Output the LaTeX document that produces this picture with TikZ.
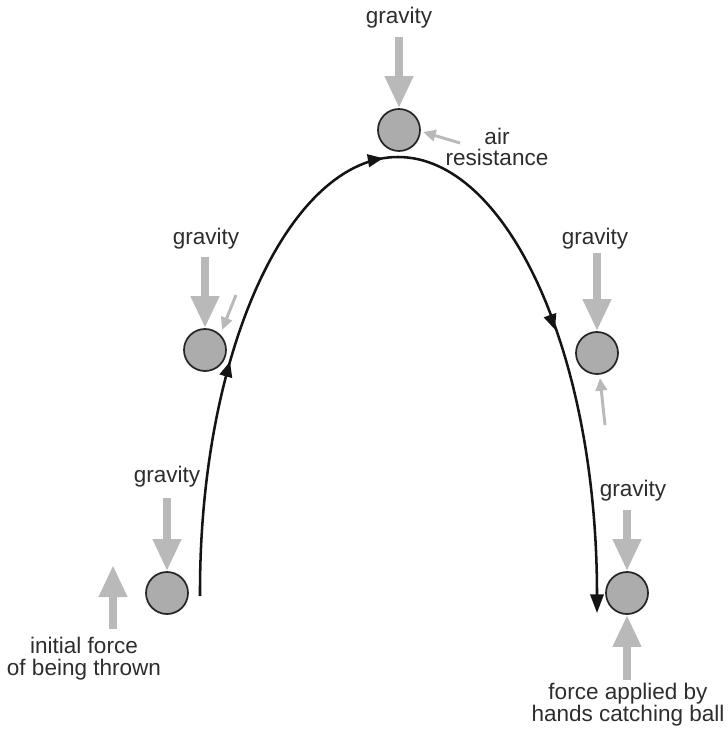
\documentclass[tikz,border=0pt]{standalone}
\usepackage{fontspec}
\setmainfont{Liberation Sans}
\usetikzlibrary{arrows.meta,decorations.markings}
\definecolor{forcegrey}{RGB}{185,185,185}
\definecolor{ballgrey}{RGB}{172,172,172}
\definecolor{txt}{RGB}{45,45,45}
\tikzset{
  ball/.style={circle, draw=black!85, line width=1.3pt, fill=ballgrey, minimum size=31.5pt, inner sep=0pt},
  bigforce/.style={draw=forcegrey, line width=6pt, -{Triangle[length=24pt,width=20pt]}},
  smallforce/.style={draw=forcegrey, line width=2.2pt, -{Triangle[length=9.5pt,width=8.5pt]}},
  lbl/.style={text=txt, font=\fontsize{16.9}{17.2}\selectfont, anchor=base, inner sep=0pt, align=center},
  traj/.style={draw=black!92, line width=1.9pt, -{Triangle[length=14pt,width=10pt]},
    postaction={decorate},
    decoration={markings,
      mark=at position 0.225 with {\arrow{Triangle[length=11.5pt,width=9.5pt]}},
      mark=at position 0.478 with {\arrow{Triangle[length=11.5pt,width=9.5pt]}},
      mark=at position 0.727 with {\arrow{Triangle[length=11.5pt,width=9.5pt]}}}}
}
\begin{document}
\begin{tikzpicture}[x=0.75pt,y=-0.75pt]
\useasboundingbox (0,0) rectangle (728,732);
% balls
\node[ball] (b1) at (167,593) {};
\node[ball] (b2) at (205,350) {};
\node[ball] (b3) at (399,130) {};
\node[ball] (b4) at (597,353) {};
\node[ball] (b5) at (627,593) {};
% trajectory
\coordinate (tstart) at (200,596);
\coordinate (apex) at (398,157);
\coordinate (tend) at (597,613);
\path[traj] (tstart) .. controls (199,350) and (290,157) .. (apex)
  .. controls (506,157) and (597,350) .. (tend);
% gravity arrows
\coordinate (g1) at (167,498);
\coordinate (g2) at (205,257);
\coordinate (g3) at (399,37);
\coordinate (g4) at (597,253);
\coordinate (g5) at (627,510);
\draw[bigforce] (g1) -- (b1.north);
\draw[bigforce] (g2) -- (b2.north);
\draw[bigforce] (g3) -- (b3.north);
\draw[bigforce] (g4) -- (b4.north);
\draw[bigforce] (g5) -- (b5.north);
% other forces
\coordinate (thr0) at (113,629);
\coordinate (thr1) at (113,565);
\draw[bigforce] (thr0) -- (thr1);
\coordinate (cat0) at (627,680);
\draw[bigforce] (cat0) -- (b5.south);
% air resistance
\coordinate (a2) at (236,295);
\coordinate (a2e) at (222,330);
\draw[smallforce] (a2) -- (a2e);
\coordinate (a3) at (460,143);
\coordinate (a3e) at (423,132);
\draw[smallforce] (a3) -- (a3e);
\coordinate (a4) at (605,425);
\coordinate (a4e) at (600,378);
\draw[smallforce] (a4) -- (a4e);
% labels
\node[lbl] (lg1) at (167,482) {gravity};
\node[lbl] (lg2) at (206,244) {gravity};
\node[lbl] (lg3) at (399,23) {gravity};
\node[lbl] (lg4) at (595,244) {gravity};
\node[lbl] (lg5) at (633,496) {gravity};
\node[lbl] (lair) at (497,144) {air};
\node[lbl] (lres) at (497,165) {resistance};
\node[lbl] (lthr1) at (84,653) {initial force};
\node[lbl] (lthr2) at (84,675) {of being thrown};
\node[lbl] (lcat1) at (628,699) {force applied by};
\node[lbl] (lcat2) at (628,721) {hands catching ball};
\end{tikzpicture}
\end{document}
